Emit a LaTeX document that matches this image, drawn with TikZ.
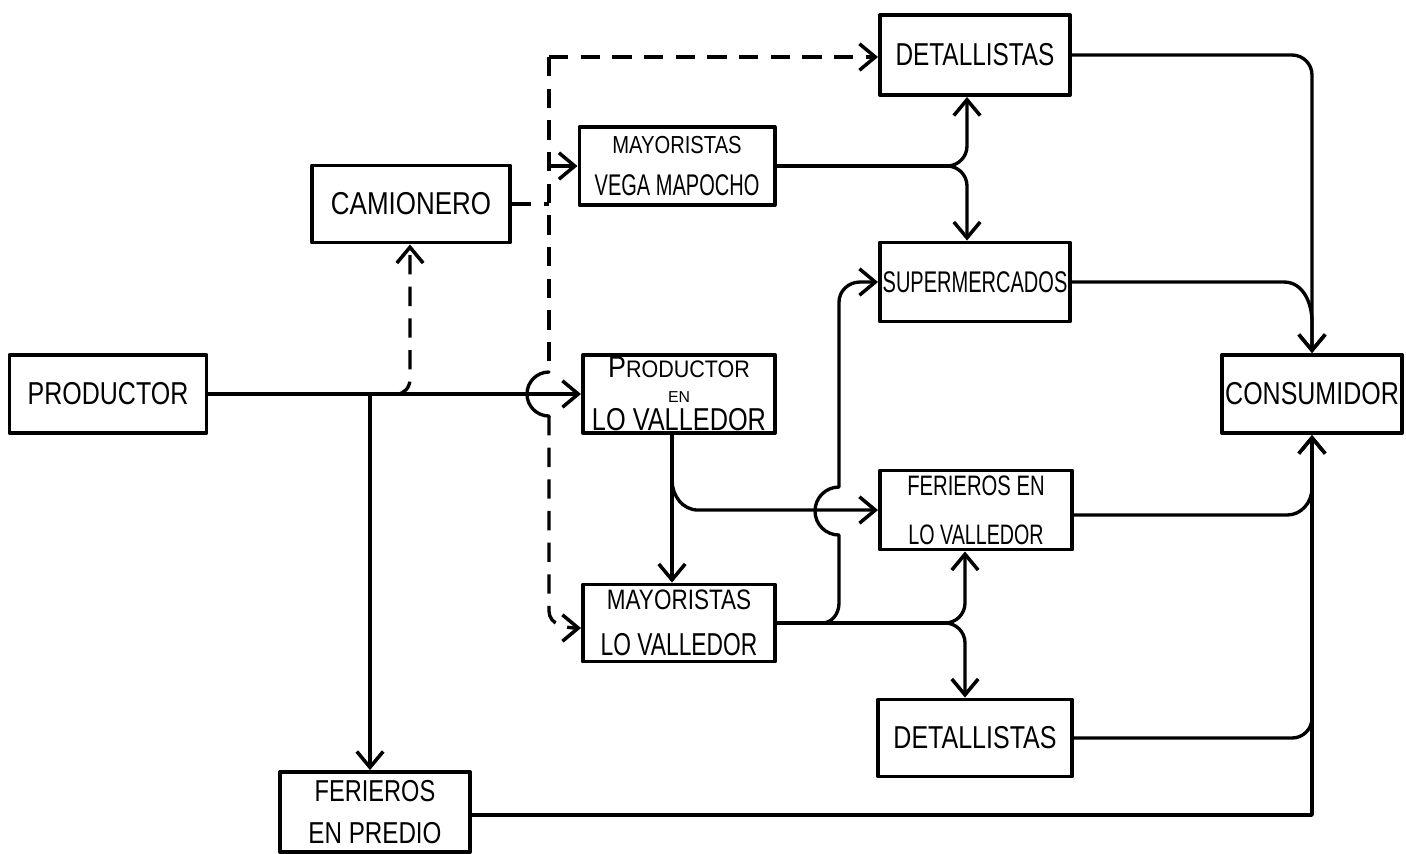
\documentclass[tikz,border=0pt]{standalone}
\usepackage{fontspec}
\newfontfamily\handfont{Liberation Sans}
\usetikzlibrary{arrows.meta}
\newcommand\fsz[1]{\fontsize{#1}{#1}\selectfont}
% narrowed hand-lettered label: horizontal factor, size, text
\newcommand\nar[3]{\scalebox{#1}[1]{\fsz{#2}#3}}
\begin{document}
\begin{tikzpicture}[x=0.01cm,y=-0.01cm,
  line width=0.95pt, line join=round, line cap=round,
  box/.style={draw, line width=1.1pt, align=center, inner sep=0pt,
    font=\handfont\fsz{9}},
  tip/.style={-{Straight Barb[length=4.5pt,width=7.5pt,line width=1pt]}},
  dash line/.style={dash pattern=on 5.5pt off 3.5pt, line cap=butt}]
\useasboundingbox (0,0) rectangle (1406,853);

% boxes
\node[box, minimum width=1.97cm, minimum height=0.78cm] (prod)  at (108,394) {\nar{0.79}{9}{PRODUCTOR}};
\node[box, minimum width=1.98cm, minimum height=0.77cm] (cam)   at (411,204) {\nar{0.82}{9}{CAMIONERO}};
\node[box, minimum width=1.90cm, minimum height=0.80cm] (det1)  at (975,55)  {\nar{0.77}{9}{DETALLISTAS}};
\node[box, minimum width=1.95cm, minimum height=0.78cm] (vega)  at (677,166)
  {\nar{0.82}{7}{MAYORISTAS}\\[3pt]\nar{0.67}{8.5}{VEGA MAPOCHO}};
\node[box, minimum width=1.90cm, minimum height=0.79cm] (super) at (975,282) {\nar{0.67}{8.5}{SUPERMERCADOS}};
\node[box, minimum width=1.80cm, minimum height=0.78cm] (cons)  at (1312,394) {\nar{0.79}{9}{CONSUMIDOR}};
\node[box, minimum width=1.92cm, minimum height=0.78cm] (plv)   at (679,394)
  {\scalebox{0.9}[1]{\fsz{8.5}P\fsz{6.8}RODUCTOR}\\[-2pt]{\fsz{4.5}EN}\\[-1pt]\nar{0.8}{9}{LO VALLEDOR}};
\node[box, minimum width=1.92cm, minimum height=0.79cm] (flv)   at (976,510)
  {\nar{0.72}{8}{FERIEROS EN}\\[5pt]\nar{0.7}{8}{LO VALLEDOR}};
\node[box, minimum width=1.92cm, minimum height=0.77cm] (mlv)   at (679,623)
  {\nar{0.8}{8}{MAYORISTAS}\\[4pt]\nar{0.72}{9}{LO VALLEDOR}};
\node[box, minimum width=1.94cm, minimum height=0.77cm] (det2)  at (975,738) {\nar{0.79}{9}{DETALLISTAS}};
\node[box, minimum width=1.90cm, minimum height=0.80cm] (pred)  at (375,812)
  {\nar{0.78}{8.6}{FERIEROS}\\[3pt]\nar{0.8}{8.6}{EN PREDIO}};

% junction points
\coordinate (jpred) at (370,394);
\coordinate (jcam)  at (410,394);
\coordinate (dtop)  at (549,57);
\coordinate (jvega) at (967,166);
\coordinate (jplv)  at (672,433);
\coordinate (jflv)  at (672,480);
\coordinate (jsup)  at (822,623);
\coordinate (jmlv)  at (965,623);
\coordinate (vx)    at (1312,394);

% productor
\draw[tip] (prod.east) -- (plv.west);
\draw[tip] (jpred) -- (jpred |- pred.north);
\draw[dash line, tip] ([xshift=-0.13cm]jcam) to[out=0,in=-90] ([yshift=0.15cm]jcam) -- (jcam |- cam.south);

% camionero and its dashed routes
\draw[dash line] (cam.east) -- (cam.east -| dtop);
\draw[dash line, tip] (dtop) -- (dtop -| det1.west);
\draw[dash line] (dtop) -- ([yshift=0.22cm]dtop |- prod.east);
\draw ([yshift=0.22cm]dtop |- prod.east) arc[start angle=90, end angle=270, radius=0.22cm];
\draw[dash line, tip] ([yshift=-0.22cm]dtop |- prod.east)
  -- ([yshift=0.12cm]dtop |- mlv.west) to[out=-90,in=180] ([yshift=-0.05cm]mlv.west);
\draw[tip] (dtop |- vega.west) -- (vega.west);

% mayoristas vega mapocho
\draw (vega.east) -- ([xshift=-0.2cm]jvega);
\draw[tip] ([xshift=-0.2cm]jvega) to[out=0,in=-90] ([yshift=0.2cm]jvega) -- (jvega |- det1.south);
\draw[tip] ([xshift=-0.2cm]jvega) to[out=0,in=90] ([yshift=-0.2cm]jvega) -- (jvega |- super.north);

% productor en lo valledor
\draw[tip] (jplv) -- (jplv |- mlv.north);
\draw[tip] (jflv) to[out=-90,in=180] ([xshift=0.26cm,yshift=-0.3cm]jflv) -- (flv.west);

% mayoristas lo valledor
\draw (mlv.east) -- ([xshift=-0.2cm]jmlv);
\draw[tip] ([xshift=-0.2cm]jmlv) to[out=0,in=-90] ([yshift=0.2cm]jmlv) -- (jmlv |- flv.south);
\draw[tip] ([xshift=-0.2cm]jmlv) to[out=0,in=90] ([yshift=-0.2cm]jmlv) -- (jmlv |- det2.north);
\draw[tip] (jsup) to[out=0,in=-90] ([xshift=0.17cm,yshift=0.2cm]jsup)
  -- ([xshift=0.17cm,yshift=-0.25cm]jsup |- flv.west)
  arc[start angle=-90, end angle=-270, radius=0.24cm]
  -- ([xshift=0.17cm,yshift=-0.2cm]jsup |- super.west) to[out=90,in=180] ([xshift=-0.18cm]super.west) -- (super.west);

% into consumidor
\draw[tip] (det1.east) -- ([xshift=-0.2cm]vx |- det1.east) to[out=0,in=90] ([yshift=-0.2cm]vx |- det1.east) -- (cons.north);
\draw[tip] (super.east) -- ([xshift=-0.28cm]vx |- super.east) to[out=0,in=90] ([yshift=-0.4cm]vx |- super.east) -- (cons.north);
\draw[tip] ([yshift=-0.05cm]flv.east) -- ([xshift=-0.25cm,yshift=-0.05cm]vx |- flv.east) to[out=0,in=-90] ([yshift=0.22cm]vx |- flv.east) -- (cons.south);
\draw (det2.east) -- ([xshift=-0.2cm]vx |- det2.east) to[out=0,in=-90] ([yshift=0.2cm]vx |- det2.east) -- ([yshift=0.5cm]vx |- det2.east);
\draw[tip] ([yshift=-0.03cm]pred.east) -- ([yshift=-0.03cm]pred.east -| vx) -- (cons.south);
\end{tikzpicture}
\end{document}
